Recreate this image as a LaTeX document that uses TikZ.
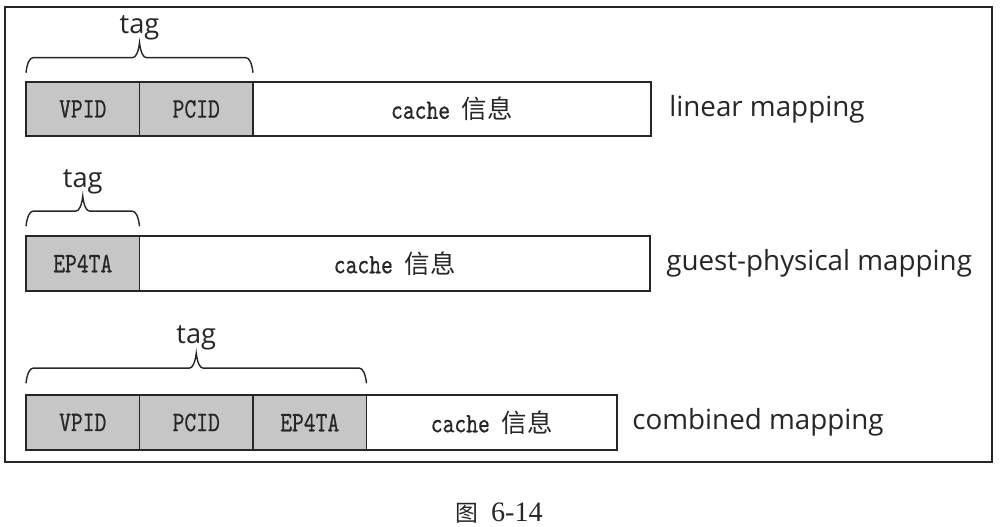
\documentclass[tikz,border=0pt]{standalone}
\usepackage{fontspec}
\setmainfont{Liberation Serif}
\setsansfont{Open Sans}
\newfontfamily\cellfont[FakeStretch=0.8,FakeBold=0.6]{lmmono10-regular.otf}
\newfontfamily\cjkfont{Noto Sans CJK SC}
\usetikzlibrary{decorations.pathreplacing}

\begin{document}
\begin{tikzpicture}[field/.style={shape=rectangle,draw=black!85,line width=0.9pt,inner sep=0pt,outer sep=0pt,minimum width=\cw cm,minimum height=\ch cm,text=black!85,font=\fontsize{16}{18}\selectfont\cellfont},fieldT/.style={field,fill=gray!45},fieldC/.style={field,anchor=west},mapl/.style={anchor=west,inner sep=0pt,text=black!85,font=\fontsize{15.8}{18}\selectfont\sffamily},tagb/.style={draw=black!85,line width=0.8pt,decorate,decoration={brace,amplitude=0.14cm,transform={yscale=4.3}}},tagl/.style={inner sep=0pt,text=black!85,font=\fontsize{15.5}{18}\selectfont\sffamily}]
\def\cw{2.27};
\def\ch{1.09};
\def\xl{0.52};
\def\ya{-2.18};
\def\yb{-5.27};
\def\yc{-8.45};
\def\cinfo{cache {\cjkfont\fontsize{14.5}{18}\selectfont 信息}}

\useasboundingbox (0,0) rectangle (20,-10.54);
\draw[line width=0.8pt,black!85] (0.1,-0.14) rectangle (19.84,-9.24);

\node[fieldT] (vpidA) at (\xl+0.5*\cw,\ya) {VPID};
\node[fieldT] (pcidA) at (\xl+1.5*\cw,\ya) {PCID};
\node[fieldC,minimum width=7.96cm] (infoA) at (pcidA.east) {\cinfo};
\node[mapl] (mapA) at ([xshift=0.36cm]infoA.east) {linear mapping};
\draw[tagb] ([yshift=0.18cm]vpidA.north west) -- ([yshift=0.18cm]pcidA.north east) node[tagl,midway,above=0.64cm] (tagA) {tag};

\node[fieldT] (eptaB) at (\xl+0.5*\cw,\yb) {EP4TA};
\node[fieldC,minimum width=10.21cm] (infoB) at (eptaB.east) {\cinfo};
\node[mapl] (mapB) at ([xshift=0.32cm]infoB.east) {guest-physical mapping};
\draw[tagb] ([yshift=0.2cm]eptaB.north west) -- ([yshift=0.2cm]eptaB.north east) node[tagl,midway,above=0.64cm] (tagB) {tag};

\node[fieldT] (vpidC) at (\xl+0.5*\cw,\yc) {VPID};
\node[fieldT] (pcidC) at (\xl+1.5*\cw,\yc) {PCID};
\node[fieldT] (eptaC) at (\xl+2.5*\cw,\yc) {EP4TA};
\node[fieldC,minimum width=5.01cm] (infoC) at (eptaC.east) {\cinfo};
\node[mapl] (mapC) at ([xshift=0.3cm]infoC.east) {combined mapping};
\draw[tagb] ([yshift=0.24cm]vpidC.north west) -- ([yshift=0.24cm]eptaC.north east) node[tagl,midway,above=0.66cm] (tagC) {tag};

\node[text=black!85,font=\fontsize{16}{19}\selectfont] (fig) at (9.98,-10.26) {{\cjkfont\fontsize{13}{19}\selectfont 图}\hspace{0.12cm} 6-14};
\end{tikzpicture}
\end{document}
